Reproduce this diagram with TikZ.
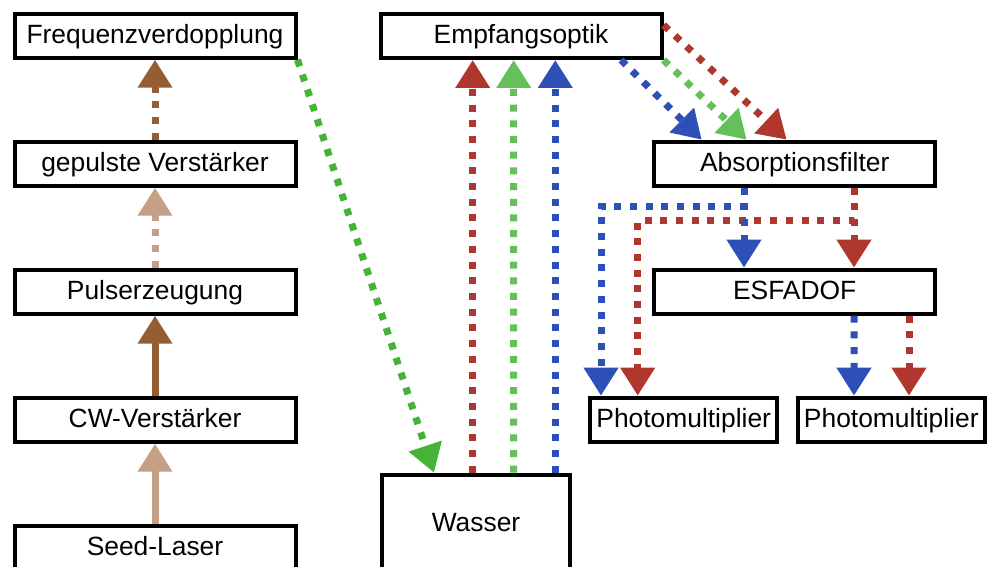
\documentclass[tikz,border=0pt]{standalone}
\usepackage{fontspec}
\setmainfont{Liberation Sans}
\usetikzlibrary{arrows.meta,positioning,calc}
\definecolor{rust}{HTML}{B0372D}
\definecolor{leaf}{HTML}{66C05A}
\definecolor{grass}{HTML}{45B335}
\definecolor{cobalt}{HTML}{2E4FB5}
\definecolor{bark}{HTML}{955D33}
\definecolor{sand}{HTML}{C4A086}
\tikzset{box/.style={draw=black,line width=2pt,minimum width=140.5pt,minimum height=22pt,inner sep=0pt,text height=9.5pt,text depth=1.5pt,font=\fontsize{13.2pt}{15pt}\selectfont},smallbox/.style={box,minimum width=93.25pt},flow/.style={-{Triangle[length=14pt,width=16.5pt]},line width=3.5pt},dotflow/.style={flow,dash pattern=on 3.5pt off 4.35pt}}

\begin{document}
\begin{tikzpicture}[x=0.5pt,y=-0.5pt]
\useasboundingbox (0,0) rectangle (987,567);
% laser chain
\node[box] (freq) at (155,35.7) {Frequenzverdopplung};
\node[box,below=40pt of freq] (gep) {gepulste Verstärker};
\node[box,below=40pt of gep] (puls) {Pulserzeugung};
\node[box,below=40pt of puls] (cw) {CW-Verstärker};
\node[box,below=40pt of cw] (seed) {Seed-Laser};
% receiver
\node[box] (emp) at (521,36) {Empfangsoptik};
\node[box] (absf) at (794.7,163.7) {Absorptionsfilter};
\node[box,below=40pt of absf] (esf) {ESFADOF};
\node[smallbox] (pm1) at (683.7,419.7) {Photomultiplier};
\node[smallbox] (pm2) at (891.3,419.7) {Photomultiplier};
\node[box,minimum width=94.25pt,minimum height=48.3pt] (wasser) at (476,523) {Wasser};
\draw[flow,sand] (seed)--(cw);\draw[flow,bark] (cw)--(puls);
\draw[dotflow,sand] (puls)--(gep);\draw[dotflow,bark] (gep)--(freq);
\draw[dotflow,grass] (freq.south east)--($(wasser.north)+(-42,0)$);
% back scatter
\draw[dotflow,rust] ($(wasser.north)+(-3.3,0)$)--($(emp.south)+(-48.3,0)$);
\draw[dotflow,leaf] ($(wasser.north)+(37.7,0)$)--($(emp.south)+(-7.3,0)$);
\draw[dotflow,cobalt] ($(wasser.north)+(79.3,0)$)--($(emp.south)+(34.3,0)$);
\draw[dotflow,cobalt] ($(emp.south)+(100,0)$)--($(absf.north)+(-93,0)$);
\draw[dotflow,leaf] (emp.south east)--($(absf.north)+(-48,0)$);
\draw[dotflow,rust] ($(emp.east)+(0,-11)$)--($(absf.north)+(-8,0)$);
% filter outputs
\draw[dotflow,cobalt] ($(absf.south)+(-50.7,0)$)--++(0,18.5)-|($(pm1.north)+(-82.7,0)$);
\draw[dotflow,rust] ($(absf.south)+(59.3,0)$)--++(0,33)-|($(pm1.north)+(-46,0)$);
\draw[dotflow,cobalt] ($(absf.south)+(-50.7,0)$)--($(esf.north)+(-50.7,0)$);
\draw[dotflow,rust] ($(absf.south)+(59.3,0)$)--($(esf.north)+(59.3,0)$);
\draw[dotflow,cobalt] ($(esf.south)+(59.3,0)$)--($(pm2.north)+(-37.3,0)$);
\draw[dotflow,rust] ($(esf.south)+(114.3,0)$)--($(pm2.north)+(17.7,0)$);
\end{tikzpicture}
\end{document}
